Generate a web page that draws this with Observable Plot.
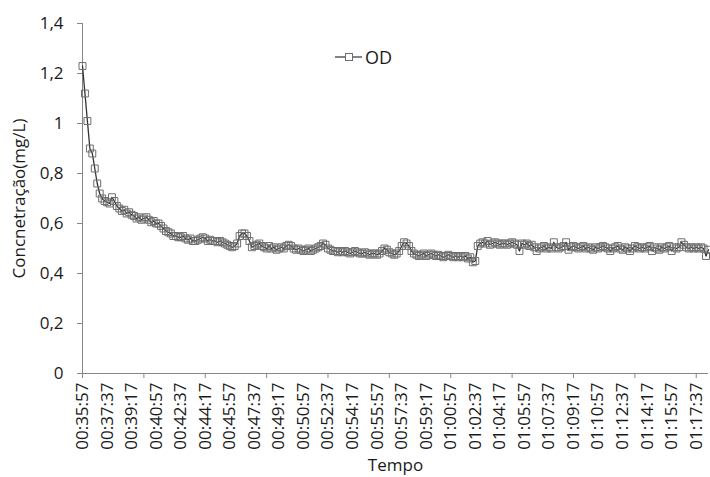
<!DOCTYPE html>
<html><head><meta charset="utf-8">
<script src="https://cdn.jsdelivr.net/npm/d3@7"></script>
<script src="https://cdn.jsdelivr.net/npm/@observablehq/plot@0.6"></script>
<style>
body{margin:0;background:#fff;font-family:"Open Sans",sans-serif;}
#wrap{position:relative;width:710px;height:477px;overflow:hidden;}
#legend{position:absolute;left:335px;top:45px;display:flex;align-items:center;font-size:18px;color:#1a1a1a;font-family:"Open Sans",sans-serif;}
</style></head><body>
<div id="wrap"><div id="legend"><svg width="27" height="12"><line x1="0" y1="6" x2="27" y2="6" stroke="#404040" stroke-width="1.3"/><rect x="10.5" y="2.5" width="7" height="7" fill="white" stroke="#6e6e6e"/></svg><span style="margin-left:3px">OD</span></div></div>
<script>
const seriesName = "OD";
const startTime = "00:35:57";
const stepSeconds = 10;
const odValues = [
1.23,1.12,1.01,0.90,0.88,0.82,0.76,0.72,0.70,0.69,
0.685,0.68,0.705,0.69,0.67,0.66,0.65,0.655,0.64,0.645,
0.635,0.63,0.62,0.625,0.615,0.62,0.625,0.615,0.605,0.61,
0.60,0.60,0.59,0.58,0.57,0.565,0.56,0.55,0.55,0.545,
0.545,0.55,0.54,0.535,0.54,0.53,0.53,0.535,0.54,0.545,
0.54,0.53,0.535,0.53,0.53,0.525,0.53,0.525,0.52,0.515,
0.51,0.505,0.51,0.52,0.55,0.56,0.56,0.55,0.53,0.505,
0.51,0.515,0.52,0.51,0.505,0.50,0.51,0.50,0.505,0.495,
0.50,0.505,0.50,0.51,0.515,0.51,0.50,0.495,0.50,0.495,
0.49,0.495,0.50,0.49,0.495,0.50,0.505,0.51,0.52,0.515,
0.50,0.495,0.49,0.49,0.485,0.49,0.485,0.49,0.485,0.48,
0.485,0.49,0.485,0.48,0.48,0.485,0.48,0.475,0.48,0.48,
0.475,0.48,0.49,0.50,0.495,0.485,0.48,0.475,0.48,0.49,
0.51,0.525,0.52,0.51,0.49,0.48,0.475,0.47,0.475,0.48,
0.47,0.475,0.48,0.475,0.47,0.475,0.47,0.465,0.47,0.475,
0.47,0.465,0.47,0.465,0.47,0.465,0.47,0.46,0.465,0.445,
0.45,0.51,0.52,0.525,0.52,0.53,0.515,0.52,0.525,0.52,
0.515,0.52,0.52,0.515,0.52,0.525,0.52,0.515,0.49,0.52,
0.515,0.52,0.51,0.515,0.505,0.49,0.50,0.505,0.51,0.50,
0.505,0.50,0.525,0.505,0.50,0.505,0.51,0.525,0.495,0.505,
0.51,0.505,0.50,0.505,0.51,0.50,0.505,0.50,0.495,0.505,
0.50,0.505,0.51,0.505,0.50,0.49,0.50,0.505,0.51,0.50,
0.495,0.505,0.50,0.49,0.50,0.51,0.505,0.50,0.505,0.50,
0.505,0.51,0.49,0.505,0.50,0.495,0.505,0.50,0.505,0.51,
0.49,0.505,0.50,0.505,0.525,0.515,0.505,0.50,0.505,0.50,
0.505,0.50,0.505,0.50,0.47,0.495
];
const tickLabels = ["00:35:57","00:37:37","00:39:17","00:40:57","00:42:37","00:44:17","00:45:57","00:47:37","00:49:17","00:50:57","00:52:37","00:54:17","00:55:57","00:57:37","00:59:17","01:00:57","01:02:37","01:04:17","01:05:57","01:07:37","01:09:17","01:10:57","01:12:37","01:14:17","01:15:57","01:17:37"];
const tickMarkLabels = ["00:35:57","00:40:07","00:44:17","00:48:27","00:52:37","00:56:47","01:00:57","01:05:07","01:09:17","01:13:27","01:17:37"];
const yTicks = [0,0.2,0.4,0.6,0.8,1,1.2,1.4];
const yTitle = "Concnetração(mg/L)";
const xTitle = "Tempo";

const toSec = s => { const [h,m,sec] = s.split(":").map(Number); return h*3600+m*60+sec; };
const fmtTime = t => d3.utcFormat("%H:%M:%S")(new Date(t*1000));
const t0 = toSec(startTime);
const data = odValues.map((v,i)=>({t: t0 + i*stepSeconds, v}));
const tLast = data[data.length-1].t;
const yFmt = d => d3.format("~g")(d).replace(".", ",");
const axisGray = "#868686";
const textColor = "#1a1a1a";

const chart = Plot.plot({
  width: 710, height: 477,
  marginLeft: 82, marginRight: 2, marginTop: 23, marginBottom: 104,
  style: {fontFamily: "'Open Sans', sans-serif", fontSize: "17px", color: textColor, background: "white", overflow: "visible"},
  x: {domain: [t0, tLast]},
  y: {domain: [0, 1.4]},
  marks: [
    Plot.ruleY([0], {stroke: axisGray}),
    Plot.ruleX([t0], {stroke: axisGray}),
    Plot.axisY(yTicks, {tickSize: 5, tickPadding: 14, tickFormat: yFmt, stroke: axisGray, fill: textColor, fontSize: 17,
      label: yTitle, labelAnchor: "center", labelOffset: 70, labelArrow: "none"}),
    Plot.axisX(tickLabels.map(toSec), {tickSize: 0, tickPadding: 9, tickRotate: -90, tickFormat: fmtTime, fill: textColor, fontSize: 17,
      label: xTitle, labelAnchor: "center", labelOffset: 97, labelArrow: "none"}),
    Plot.axisX(tickMarkLabels.map(toSec), {tickSize: 5, tickFormat: () => "", stroke: axisGray, label: null}),
    Plot.lineY(data, {x: "t", y: "v", stroke: "#333333", strokeWidth: 1.3}),
    Plot.dot(data, {x: "t", y: "v", symbol: "square", r: 3.9, stroke: "#6e6e6e", fill: "none", strokeWidth: 1})
  ]
});
document.getElementById("wrap").prepend(chart);
</script>
</body></html>
